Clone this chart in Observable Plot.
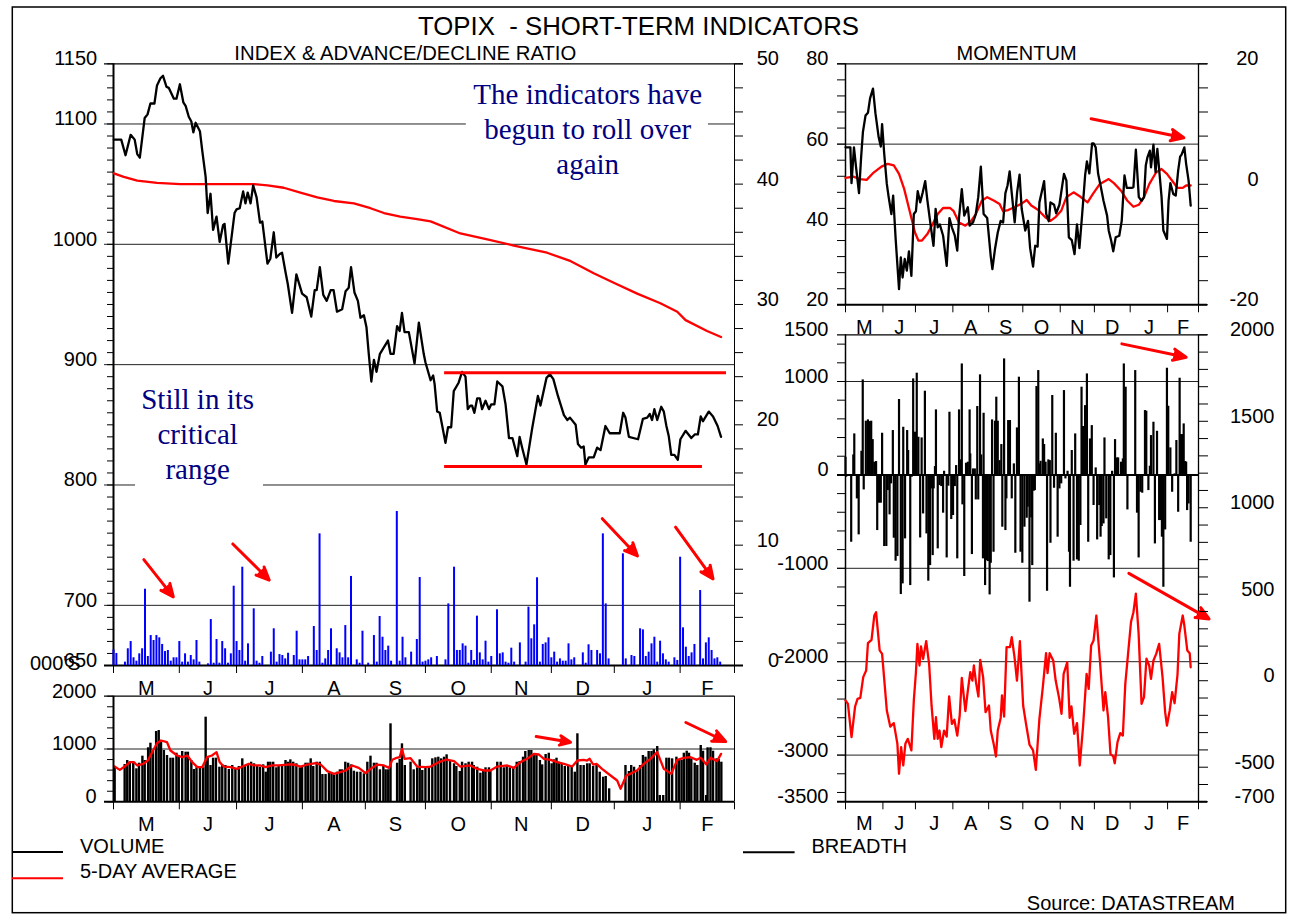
<!DOCTYPE html>
<html><head><meta charset="utf-8">
<script src="https://cdn.jsdelivr.net/npm/d3@7"></script>
<script src="https://cdn.jsdelivr.net/npm/@observablehq/plot@0.6"></script>
<style>
html,body{margin:0;padding:0;background:#fff;}
#chart{position:relative;width:1292px;height:915px;overflow:hidden;background:#fff;}
#chart svg{position:absolute;left:0;top:0;}
</style></head><body><div id="chart"></div>
<script>
// ---------- DATA (x = weekday index from 1 May, value) ----------
const monthStarts = [0, 23, 43, 66, 88, 109, 132, 153, 175, 198, 217];
const monthNames = ["M","J","J","A","S","O","N","D","J","F"];

const topixIndex = [[0.1,1087],[2.7,1087],[4.2,1074],[6.0,1091],[7.4,1087],[8.3,1075],[9.2,1072],[10.9,1105],[11.9,1108],[12.9,1117],[14.3,1117],[15.2,1132],[16.4,1138],[17.3,1140],[18.5,1131],[19.3,1130],[21.1,1121],[22.0,1121],[23.2,1133],[24.4,1118],[25.2,1115],[26.3,1106],[27.2,1102],[27.9,1093],[28.7,1101],[30.2,1094],[31.0,1078],[32.2,1056],[32.9,1026],[33.9,1042],[34.8,1012],[36.0,1023],[37.1,1002],[38.3,1016],[38.8,1017],[40.1,984],[42.3,1026],[43.0,1029],[44.1,1030],[45.3,1044],[46.1,1034],[46.9,1043],[47.9,1034],[48.8,1049],[50.0,1039],[51.2,1018],[52.0,1019],[53.8,984],[54.8,988],[56.0,1010],[56.9,989],[58.1,992],[58.9,993],[60.1,977],[60.9,967],[62.4,943],[63.9,975],[65.9,959],[67.5,956],[69.1,940],[70.3,962],[71.0,962],[72.1,981],[73.3,958],[74.5,953],[75.9,962],[76.9,962],[78.1,944],[79.9,946],[81.1,961],[82.2,964],[83.0,981],[84.2,960],[85.4,953],[86.3,939],[87.5,941],[88.4,931],[89.2,909],[90.1,886],[91.0,904],[91.9,894],[93.1,909],[95.9,920],[96.8,909],[97.9,909],[99.1,932],[100.0,928],[100.8,943],[101.7,927],[103.2,927],[105.2,901],[106.7,935],[108.4,909],[109.0,902],[110.8,887],[111.7,891],[112.2,884],[113.1,861],[114.0,860],[116.0,835],[116.9,848],[118.0,848],[118.9,878],[120.6,885],[121.8,894],[123.0,890],[123.8,863],[124.7,866],[125.3,866],[126.1,860],[127.1,872],[128.0,872],[128.8,863],[130.0,870],[131.2,863],[132.0,867],[133.1,867],[134.1,886],[135.9,882],[137.0,867],[138.2,839],[139.4,839],[141.1,824],[141.9,840],[142.8,831],[144.3,817],[146.3,847],[148.3,874],[149.2,866],[151.3,889],[152.5,892],[153.7,888],[155.3,874],[157.4,858],[158.6,854],[159.5,856],[161.5,850],[162.3,834],[163.4,831],[164.3,832],[164.9,817],[166.1,823],[167.8,823],[169.0,831],[170.2,829],[171.9,849],[173.4,843],[176.9,843],[178.1,860],[178.9,856],[180.1,840],[183.3,838],[185.0,855],[186.5,856],[187.4,859],[188.2,854],[189.0,863],[190.0,854],[191.4,865],[192.3,861],[193.2,849],[194.0,841],[194.9,825],[196.0,825],[197.2,821],[198.1,838],[199.9,845],[201.9,839],[203.1,842],[204.2,842],[205.2,857],[206.0,853],[208.0,861],[209.5,857],[211.1,849],[212.3,840]];

const movingAverage = [[0.1,1059],[3.6,1056],[8.3,1053],[15.2,1051],[23.4,1050],[29.3,1050],[44.4,1050],[49.1,1050],[53.8,1049],[59.5,1047],[65.3,1043],[71.2,1039],[77.0,1036],[84.0,1034],[89.8,1030],[94.5,1026],[100.2,1023],[106.1,1021],[110.8,1019],[111.9,1018],[121.2,1009],[130.6,1004],[139.9,999],[151.5,993],[159.8,986],[167.8,976],[174.8,968],[183.0,959],[191.1,951],[197.0,944],[199.9,937],[207.4,928],[212.3,923]];

const adRatio = [[0,1.3],[1,1.0],[4,0.28],[5,1.39],[6,1.99],[7,0.64],[8,0.36],[9,0.97],[10,1.39],[11,6.34],[12,0.75],[13,2.49],[14,2.08],[15,2.49],[16,2.3],[17,1.75],[18,1.16],[19,1.25],[20,0.36],[21,0.64],[22,0.64],[23,1.99],[24,0.28],[25,0.97],[26,0.28],[27,0.83],[28,0.47],[29,2.08],[30,0.28],[33,0.14],[34,3.82],[35,0.19],[36,2.16],[37,0.19],[38,1.99],[39,1.39],[40,0.19],[41,0.97],[42,6.59],[43,1.99],[44,1.25],[45,8.17],[46,0.36],[47,1.8],[49,4.71],[50,0.36],[51,0.19],[52,0.75],[55,1.11],[56,3.05],[57,0.28],[58,0.91],[59,0.83],[60,0.55],[61,1.02],[63,0.83],[64,2.85],[65,0.47],[66,0.47],[67,0.47],[68,0.75],[70,3.24],[71,1.25],[72,10.94],[73,0.19],[74,0.55],[75,1.25],[76,3.05],[78,1.39],[79,1.05],[80,0.64],[81,3.32],[82,0.64],[83,7.4],[85,0.47],[86,0.19],[87,2.85],[89,0.19],[91,2.49],[92,0.28],[93,4.07],[94,2.35],[95,1.25],[96,1.61],[97,0.36],[99,12.8],[100,0.36],[101,2.35],[102,0.64],[104,1.11],[106,2.16],[107,7.31],[108,0.28],[109,0.36],[110,0.47],[111,0.64],[113,0.75],[116,0.47],[117,5.12],[119,8.17],[120,1.25],[121,1.25],[122,1.8],[123,1.61],[124,0.19],[125,1.25],[126,0.42],[127,4.1],[128,1.05],[129,0.47],[130,2.02],[131,0.28],[132,0.75],[134,4.63],[135,0.97],[136,1.05],[137,0.28],[138,0.19],[139,1.44],[140,0.28],[142,1.88],[144,0.28],[145,4.85],[146,2.22],[147,3.38],[148,7.29],[149,0.28],[150,1.75],[151,1.88],[152,2.3],[153,0.64],[154,1.11],[155,0.28],[156,0.55],[157,0.36],[158,0.36],[159,1.8],[160,0.47],[161,0.64],[164,1.05],[165,0.19],[166,1.72],[167,1.25],[169,1.25],[170,0.97],[171,10.94],[172,5.12],[173,0.55],[178,9.28],[179,0.55],[181,0.83],[182,0.75],[184,3.05],[185,2.96],[186,0.75],[187,1.11],[188,1.8],[189,2.35],[190,0.28],[191,2.02],[192,0.97],[193,0.47],[194,0.28],[196,0.64],[197,0.42],[198,9.0],[199,3.13],[200,1.52],[201,0.75],[202,1.05],[203,1.75],[205,6.23],[206,0.55],[207,1.88],[208,2.3],[209,1.25],[210,0.55],[211,0.64],[212,0.28]];

const volume = [[0.4,655],[3.9,706],[4.8,782],[5.7,750],[6.9,731],[8.0,625],[8.9,731],[10.1,864],[10.9,782],[12.1,1023],[12.9,1110],[13.8,958],[14.9,1331],[15.8,1350],[16.6,1129],[17.6,972],[18.7,877],[19.9,826],[20.8,826],[22.0,920],[22.8,877],[24.0,953],[25.2,940],[26.0,940],[27.2,782],[28.1,612],[29.0,644],[30.2,644],[31.3,644],[32.2,1603],[32.9,826],[33.9,688],[34.8,826],[35.8,826],[37.0,655],[38.0,700],[39.1,688],[40.3,612],[41.5,688],[42.6,612],[43.8,669],[45.0,814],[45.9,669],[47.0,700],[48.1,750],[49.1,720],[50.2,669],[51.2,655],[52.3,700],[53.2,561],[54.0,750],[54.8,750],[55.8,750],[56.9,644],[57.7,669],[58.9,669],[60.1,782],[60.9,750],[61.8,795],[62.8,750],[63.9,720],[65.1,644],[65.9,669],[67.1,731],[67.9,731],[68.9,814],[69.8,669],[71.0,750],[72.1,750],[73.0,517],[74.1,517],[75.3,542],[76.2,542],[77.1,498],[78.1,561],[79.1,606],[79.9,606],[81.0,750],[82.0,731],[83.0,700],[84.0,580],[85.1,561],[86.3,561],[87.5,530],[88.7,750],[89.8,864],[91.0,731],[91.9,731],[93.1,606],[94.3,669],[95.1,606],[96.0,606],[96.8,1477],[99.1,731],[100.0,801],[100.8,1098],[101.8,688],[103.8,750],[104.9,606],[106.1,644],[107.0,795],[107.9,593],[109.0,669],[110.2,644],[111.4,814],[112.5,833],[113.5,845],[114.5,814],[115.5,845],[116.4,890],[117.6,782],[119.0,720],[119.8,669],[121.0,574],[121.8,750],[123.0,720],[124.1,750],[125.3,750],[125.9,688],[127.1,655],[128.2,542],[129.2,593],[130.0,644],[131.2,644],[131.7,593],[134.1,750],[135.3,750],[136.4,644],[137.4,669],[138.5,644],[139.7,644],[140.9,750],[141.9,763],[143.1,845],[143.9,953],[145.1,972],[146.0,972],[146.9,896],[147.8,890],[149.0,782],[149.8,700],[151.0,896],[152.1,920],[153.1,720],[153.9,795],[154.8,826],[155.6,750],[156.6,720],[157.7,669],[158.9,688],[160.1,669],[161.2,561],[162.1,1288],[163.2,688],[164.3,688],[165.5,720],[166.4,720],[167.6,669],[168.8,700],[169.9,561],[171.1,466],[172.0,479],[173.2,246],[178.9,688],[180.1,574],[180.9,688],[181.9,655],[183.0,574],[184.0,688],[185.0,877],[185.9,845],[187.0,953],[188.0,953],[188.8,985],[190.0,1047],[190.9,119],[192.1,119],[193.2,826],[194.1,826],[195.2,814],[196.7,845],[197.6,782],[198.5,782],[199.3,920],[200.3,958],[201.1,920],[201.9,814],[203.1,731],[204.0,688],[205.2,1066],[206.0,958],[207.1,119],[207.6,1023],[208.6,1023],[209.5,958],[210.7,814],[211.5,801],[212.4,750]];

const volumeAvg5 = [[0.4,668],[2.2,605],[3.9,668],[5.7,751],[7.1,751],[8.3,688],[10.4,719],[12.0,782],[13.5,940],[15.2,1110],[16.6,1161],[18.7,1129],[19.9,972],[22.2,877],[24.0,845],[25.8,877],[27.5,751],[29.3,656],[31.0,656],[32.7,845],[34.4,877],[36.0,940],[37.1,751],[38.5,668],[40.9,656],[43.2,624],[45.0,668],[47.3,719],[49.1,688],[51.4,688],[53.2,656],[55.4,688],[57.7,688],[60.7,706],[63.0,706],[65.4,668],[67.7,706],[70.6,732],[72.4,706],[74.7,580],[77.0,530],[79.3,561],[81.1,593],[83.4,688],[85.7,643],[88.1,542],[89.8,624],[92.2,706],[94.5,688],[96.3,643],[97.4,795],[98.6,826],[100.0,845],[100.8,1003],[101.7,814],[103.8,826],[106.1,668],[109.0,656],[110.8,668],[113.7,751],[116.4,801],[119.0,770],[121.2,668],[124.7,688],[127.1,624],[129.4,593],[131.7,593],[134.1,668],[137.6,688],[139.9,643],[142.2,751],[144.5,814],[146.9,908],[148.6,896],[150.4,814],[152.7,795],[155.0,751],[157.4,719],[160.3,668],[162.1,782],[164.3,795],[165.5,782],[166.4,814],[167.6,706],[168.8,719],[170.7,624],[173.7,498],[176.0,403],[177.2,246],[179.2,498],[180.6,530],[182.9,593],[185.3,719],[187.6,814],[190.0,940],[192.3,624],[194.9,530],[197.0,795],[199.3,833],[201.7,845],[203.8,795],[205.2,833],[207.2,706],[208.6,833],[210.9,770],[212.3,908]];

const momentum = [[0.0,59.2],[3.0,59.2],[3.7,50.3],[5.2,59.2],[6.5,54.2],[8.3,47.8],[9.6,56.7],[10.7,63.0],[12.3,67.1],[13.8,67.8],[15.1,71.4],[16.9,73.8],[18.4,67.7],[20.4,61.7],[21.7,59.4],[22.5,65.0],[23.8,57.6],[25.4,50.1],[26.4,47.2],[28.2,42.6],[29.3,47.2],[30.8,36.6],[32.9,23.9],[34.0,31.8],[35.1,26.8],[36.4,31.4],[37.7,28.5],[39.0,33.3],[40.5,27.2],[42.0,42.6],[43.3,43.3],[44.4,48.3],[45.9,45.5],[47.5,48.0],[49.0,50.8],[50.3,46.1],[52.5,39.3],[54.1,34.7],[55.4,43.9],[56.7,39.3],[58.0,40.0],[60.0,37.2],[62.2,29.7],[63.9,41.6],[65.4,39.3],[67.2,37.2],[68.7,33.5],[69.8,41.8],[71.5,48.8],[73.0,42.2],[75.2,44.3],[76.3,39.7],[78.4,40.5],[80.1,42.6],[81.6,46.8],[83.2,54.4],[84.9,42.6],[87.1,41.6],[89.3,32.0],[90.3,28.9],[91.9,33.9],[93.6,38.0],[95.4,40.9],[96.9,40.5],[98.3,47.8],[99.6,49.7],[100.9,53.2],[102.2,47.8],[104.0,40.5],[105.5,48.0],[107.0,52.4],[108.3,43.9],[110.5,38.5],[112.2,40.9],[113.5,34.1],[115.3,29.5],[116.6,34.7],[118.1,34.5],[119.2,45.5],[120.6,48.0],[122.1,50.8],[123.4,42.6],[125.0,40.8],[126.0,45.5],[128.2,44.9],[129.5,42.8],[131.5,44.9],[134.3,52.6],[135.8,50.9],[137.3,36.8],[139.1,36.1],[140.8,32.6],[142.3,40.0],[143.8,34.1],[145.5,42.6],[147.3,52.2],[148.4,55.7],[149.9,52.7],[151.6,60.2],[152.5,60.2],[153.8,59.2],[155.3,52.6],[156.8,49.7],[158.6,45.9],[160.8,42.2],[161.8,38.5],[163.3,36.0],[164.6,33.3],[166.1,36.8],[168.3,37.2],[169.8,40.9],[171.5,52.2],[172.9,49.1],[175.9,49.1],[177.0,49.3],[178.5,58.6],[180.3,46.8],[182.0,45.9],[183.5,46.8],[184.6,54.7],[185.6,56.7],[187.1,58.4],[187.8,54.2],[189.3,59.9],[190.6,53.0],[191.7,58.8],[192.8,53.8],[194.3,46.8],[195.4,38.5],[197.6,36.4],[198.6,45.9],[199.7,50.3],[201.5,47.6],[203.0,47.2],[204.5,53.4],[205.7,56.9],[206.6,57.4],[208.3,59.2],[209.4,55.1],[210.9,50.9],[212.2,44.7]];

const momentumAvg = [[0,51.6],[4.8,51.9],[9.1,51.3],[13.0,51.1],[16.7,52.7],[22.1,54.4],[26.0,55.1],[29.7,54.7],[32.9,52.6],[36.1,48.8],[39.4,43.4],[42.7,38.0],[44.8,36.0],[47.0,36.0],[50.3,37.6],[53.6,40.1],[56.7,42.6],[60.0,44.1],[64.3,44.1],[66.5,43.3],[69.8,40.5],[73.7,39.7],[77.3,40.9],[80.1,42.6],[83.8,45.9],[87.1,46.8],[91.4,45.9],[94.7,45.1],[96.9,43.3],[100.0,43.6],[104.4,44.4],[108.7,45.3],[111.4,46.1],[114.2,44.7],[118.5,43.6],[122.8,41.8],[126.0,40.9],[129.3,41.9],[132.6,43.4],[135.8,46.8],[140.2,48.0],[144.4,46.9],[148.8,45.5],[152.1,47.6],[156.4,50.1],[161.8,51.3],[165.0,50.3],[169.4,48.4],[173.3,45.9],[177.0,44.4],[180.3,44.9],[183.5,46.8],[186.8,50.1],[191.0,53.0],[194.3,53.8],[197.6,52.6],[200.8,50.9],[204.1,49.1],[207.3,49.1],[209.4,49.7],[212.2,49.7]];

const breadthBars = [[0.0,189],[0.4,-25],[3.5,-721],[4.8,214],[5.4,439],[7.0,-257],[8.1,-642],[9.8,253],[10.6,1017],[11.2,-161],[12.5,575],[13.8,589],[14.9,571],[15.8,575],[16.7,378],[17.7,136],[18.8,143],[19.5,-596],[20.6,-303],[21.7,-303],[22.5,446],[23.8,-767],[25.1,-767],[26.0,-168],[27.1,-428],[28.0,-96],[29.1,475],[29.7,-678],[30.8,-924],[31.9,-874],[32.9,807],[34.0,-1281],[35.1,-1167],[35.5,510],[36.6,-685],[37.9,475],[38.5,261],[39.8,-1185],[40.7,-25],[41.6,1028],[42.7,457],[43.8,1089],[44.8,403],[45.9,-675],[46.8,396],[47.7,-418],[48.8,896],[49.8,-632],[50.9,-1138],[52.0,-971],[52.9,-150],[53.6,-864],[54.2,-150],[55.0,89],[55.6,696],[56.7,-792],[57.8,-114],[58.9,-125],[60.0,-410],[60.6,39],[62.2,-889],[63.2,-121],[63.9,671],[65.0,-478],[66.1,-435],[67.2,-125],[68.0,100],[68.7,-899],[69.8,696],[70.9,161],[71.5,1188],[71.9,-321],[73.0,-1088],[74.1,125],[75.2,136],[76.3,696],[76.7,225],[77.7,-853],[78.4,64],[79.5,64],[80.1,-268],[81.0,732],[81.6,-268],[82.7,1071],[83.4,214],[84.5,-899],[84.9,660],[85.8,-1185],[86.6,-917],[87.5,-928],[88.6,-1285],[89.3,-946],[90.1,589],[91.0,-828],[91.9,575],[92.7,832],[93.6,575],[94.7,153],[95.8,325],[96.4,-560],[97.5,1242],[98.3,-596],[98.9,-257],[100.0,582],[101.1,582],[102.2,-257],[103.5,118],[104.4,-839],[105.4,503],[106.6,1046],[107.6,-828],[108.7,-946],[110.0,-560],[111.4,-464],[112.0,-346],[113.1,-1363],[114.2,-460],[114.8,-971],[115.7,-175],[116.4,-168],[117.4,946],[118.5,1117],[119.2,118],[119.9,146],[121.3,385],[122.1,325],[123.0,136],[123.9,-1246],[124.7,161],[125.6,153],[126.0,-732],[127.1,850],[128.2,-143],[129.3,446],[130.4,-667],[131.5,-150],[132.6,-96],[134.3,903],[135.2,-43],[136.5,39],[137.4,-828],[138.0,-1203],[139.1,261],[140.2,-924],[141.2,439],[142.3,-910],[143.4,-924],[144.4,-542],[145.1,939],[146.0,518],[147.3,742],[148.4,1081],[149.2,-721],[150.3,385],[151.4,528],[152.5,-328],[153.8,75],[154.7,-696],[156.0,-328],[156.8,-667],[157.5,-553],[158.6,-525],[159.2,396],[160.3,-471],[161.8,-910],[162.8,-864],[163.9,39],[165.0,-1103],[165.7,378],[166.8,182],[167.6,182],[169.4,136],[170.5,171],[171.1,1188],[172.2,939],[173.3,-375],[178.1,1117],[179.2,-410],[180.2,-889],[181.3,-186],[182.4,-196],[184.1,689],[184.9,682],[186.2,-168],[187.1,93],[187.8,421],[189.3,564],[190.2,-739],[191.5,467],[192.8,-489],[193.6,-489],[194.5,-667],[195.4,-1203],[196.5,-589],[197.6,1142],[198.4,735],[199.7,289],[200.8,-186],[202.3,11],[203.4,368],[204.5,-400],[205.4,1035],[206.2,432],[207.3,432],[207.9,546],[208.8,143],[209.4,136],[210.0,-382],[210.9,-311],[212.2,-721]];

const breadthLine = [[0,-114],[1.5,-134],[3.7,-326],[5.9,-149],[7.4,-105],[9.1,-99],[10.9,21],[12.7,59],[13.8,217],[16.0,236],[17.7,377],[18.8,396],[21.0,175],[22.5,155],[25.4,-172],[27.5,-265],[29.7,-245],[31.9,-365],[32.9,-538],[34.2,-384],[35.5,-490],[36.8,-365],[38.3,-336],[40.5,-403],[42.0,-114],[43.3,49],[44.2,213],[45.5,88],[46.4,198],[47.7,127],[49.6,229],[51.4,98],[52.9,-143],[54.6,-336],[55.6,-211],[56.7,-336],[57.8,-288],[58.9,-384],[60.6,-288],[62.2,-323],[63.7,-91],[65.4,-249],[66.9,-226],[68.7,-317],[70.2,-201],[71.5,17],[73.7,-176],[75.2,-57],[76.7,49],[78.0,1],[78.9,88],[80.2,-8],[81.7,-91],[82.8,121],[84.6,21],[86.1,-182],[88.2,-143],[89.3,-288],[91.0,-361],[92.5,-438],[93.6,-288],[95.4,-215],[96.2,-85],[97.5,-207],[99.0,194],[101.1,194],[102.2,252],[103.9,136],[105.4,1],[107.2,229],[109.2,-143],[110.9,-245],[113.1,-369],[115.3,-403],[117.0,-515],[119.2,-220],[121.3,-37],[123.3,159],[124.2,44],[125.5,159],[127.7,117],[129.2,1],[131.4,-105],[132.8,-191],[134.1,40],[136.3,107],[137.8,-215],[138.9,-149],[140.6,-307],[142.3,-245],[144.0,-490],[146.0,-269],[148.2,40],[149.5,-47],[151.0,204],[152.5,233],[154.2,377],[156.4,117],[158.6,-172],[159.7,-66],[161.4,-211],[162.9,-423],[164.6,-438],[165.5,-477],[167.2,-355],[168.9,-303],[170.5,-317],[172.0,-18],[173.7,155],[175.5,339],[177.0,396],[178.5,503],[180.2,271],[182.0,-134],[183.5,-95],[185.0,127],[186.7,88],[187.8,11],[189.3,117],[191.0,155],[192.8,213],[194.9,21],[196.5,-182],[197.6,-259],[199.3,-172],[200.8,-66],[202.3,-130],[204.1,36],[205.2,271],[207.3,377],[208.3,319],[210.1,175],[211.6,159],[212.2,78]];

// annotations (data units)
const rangeLines = [[115.7,214.2,893.3],[115.7,205.8,815.4]];          // [x1, x2, index level]
const arrowsIndex = [[10.6,738,20.9,707],[41.7,751,54.4,721],[170.8,772,183.1,741],[196.4,765,209.5,722]];
const arrowsVolume = [[147.7,1237,159.7,1129],[200.0,1502,213.9,1142]];
const arrowsMomentum = [[151.0,66.3,208.0,61.6]];
const arrowsBreadth = [[169.9,1403,209.4,1259],[174.2,-1054,223.5,-1542]];
const noteTexts = ["The indicators have\nbegun to roll over\nagain", "Still in its\ncritical\nrange"];
const noteAnchors = [[165.7,1096.7],[29.4,843.3]];
const noteBoxes = [[123.3,207.9,1053,1143],[7.7,52.4,793,888.5]];

// ---------- RENDER ----------
const W = 1292, H = 915;
const FONT = "'Liberation Sans', Arial, Helvetica, sans-serif";
const RED = "#ff0000", BLUE = "#0000ff";
const LW = 2.3;
const chart = document.getElementById("chart");
const fmt = d => String(d);
const monthMids = monthNames.map((_, i) => (monthStarts[i] + monthStarts[i + 1]) / 2);
const monthLabelAt = new Map(monthMids.map((m, i) => [m, monthNames[i]]));
const X = d => d[0], Y = d => d[1];

function panel(box, ydomain, marks) {
  const svg = Plot.plot({
    width: W, height: H,
    marginLeft: box.left, marginRight: W - box.right, marginTop: box.top, marginBottom: H - box.bottom,
    x: {type: "linear", domain: [0, 217], axis: null},
    y: {type: "linear", domain: ydomain, axis: null},
    style: {fontFamily: FONT, fontSize: "20px", color: "black", background: "transparent", overflow: "visible"},
    marks
  });
  chart.appendChild(svg);
}
const monthAxes = (pad) => [
  Plot.axisX({ticks: monthStarts, tickSize: 8, tickFormat: () => "", anchor: "bottom", label: null}),
  Plot.axisX({ticks: monthMids, tickSize: 0, tickPadding: pad, tickFormat: d => monthLabelAt.get(d), anchor: "bottom", label: null})
];
const arrowMark = (data) => Plot.arrow(data, {x1: d => d[0], y1: d => d[1], x2: d => d[2], y2: d => d[3],
  stroke: RED, fill: RED, strokeWidth: 3, headLength: 7, headAngle: 48});

// overlay: border, titles, legends
const ov = d3.create("svg").attr("width", W).attr("height", H).style("font-family", FONT).style("font-size", "20px");
ov.append("rect").attr("x", 12.3).attr("y", 7).attr("width", 1273.4).attr("height", 905.7).attr("fill", "none").attr("stroke", "black").attr("stroke-width", 1.5);
const T = (x, y, s, anchor = "start", size = 20) => ov.append("text").attr("x", x).attr("y", y).attr("text-anchor", anchor).attr("font-size", size).style("white-space", "pre").text(s);
T(638.5, 35, "TOPIX  - SHORT-TERM INDICATORS", "middle", 25.8);
T(405.3, 60, "INDEX & ADVANCE/DECLINE RATIO", "middle", 20.3);
T(1016.6, 60, "MOMENTUM", "middle");
T(30, 670, "000'S");
ov.append("line").attr("x1", 12).attr("x2", 63).attr("y1", 852).attr("y2", 852).attr("stroke", "black").attr("stroke-width", 2);
T(80, 853.3, "VOLUME");
ov.append("line").attr("x1", 12).attr("x2", 63).attr("y1", 878.3).attr("y2", 878.3).attr("stroke", RED).attr("stroke-width", 2);
T(80, 878.3, "5-DAY AVERAGE");
ov.append("line").attr("x1", 743).attr("x2", 794.6).attr("y1", 852.3).attr("y2", 852.3).attr("stroke", "black").attr("stroke-width", 2);
T(811.5, 853.3, "BREADTH");
T(1235, 910, "Source: DATASTREAM", "end");
chart.appendChild(ov.node());

// Panel A: index (left axis)
const boxA = {left: 113, right: 734, top: 63.3, bottom: 665};
panel(boxA, [650, 1150], [
  Plot.ruleY([1100, 1000, 900, 800, 700], {insetLeft: -9, stroke: "#222", strokeWidth: 1}),
  Plot.rect(noteBoxes, {x1: d => d[0], x2: d => d[1], y1: d => d[2], y2: d => d[3], fill: "white"}),
  Plot.text(noteTexts, {x: (d, i) => noteAnchors[i][0], y: (d, i) => noteAnchors[i][1], text: d => d,
    fontFamily: "'Liberation Serif', 'Times New Roman', serif", fontSize: 29, fill: "#000080", lineHeight: 1.2}),
  Plot.ruleY([1150], {insetLeft: -9, insetRight: -9, strokeWidth: 1.3}),
  Plot.ruleY([650], {insetLeft: -9, insetRight: -9, strokeWidth: 2}),
  Plot.ruleX([0], {strokeWidth: 2}),
  Plot.ruleX([217], {strokeWidth: 1}),
  Plot.line(movingAverage, {x: X, y: Y, stroke: RED, strokeWidth: LW}),
  Plot.line(topixIndex, {x: X, y: Y, stroke: "black", strokeWidth: LW}),
  Plot.ruleY(rangeLines, {x1: d => d[0], x2: d => d[1], y: d => d[2], stroke: RED, strokeWidth: 3}),
  arrowMark(arrowsIndex),
  Plot.axisY({ticks: d3.range(650, 1151, 10), tickSize: 6, tickFormat: () => "", anchor: "left", label: null}),
  Plot.axisY({ticks: [650, 700, 800, 900, 1000, 1100, 1150], tickSize: 0, tickPadding: 16.3, dy: -5, tickFormat: fmt, anchor: "left", label: null}),
  ...monthAxes(15.3)
]);
// Panel A: A/D ratio (right axis)
panel(boxA, [0, 50], [
  Plot.ruleX(adRatio, {x: X, y1: 0, y2: Y, stroke: BLUE, strokeWidth: 2}),
  Plot.axisY({ticks: d3.range(0, 51, 2), tickSize: 8, tickFormat: () => "", anchor: "right", label: null}),
  Plot.axisY({ticks: [0, 10, 20, 30, 40, 50], tickSize: 0, tickPadding: 44.5, textAnchor: "end", dy: -5, tickFormat: fmt, anchor: "right", label: null})
]);

// Volume panel
const boxV = {left: 113, right: 734, top: 695.7, bottom: 801.3};
panel(boxV, [0, 2000], [
  Plot.ruleY([1000], {insetLeft: -9, stroke: "#222", strokeWidth: 1}),
  Plot.ruleY([2000], {insetLeft: -9, strokeWidth: 1.3}),
  Plot.ruleX([217], {strokeWidth: 1}),
  Plot.ruleX(volume, {x: X, y1: 0, y2: Y, stroke: "black", strokeWidth: 2.4}),
  Plot.line(volumeAvg5, {x: X, y: Y, stroke: RED, strokeWidth: LW}),
  Plot.ruleY([0], {insetLeft: -9, strokeWidth: 2}),
  Plot.ruleX([0], {strokeWidth: 2}),
  arrowMark(arrowsVolume),
  Plot.axisY({ticks: d3.range(0, 2001, 200), tickSize: 6, tickFormat: () => "", anchor: "left", label: null}),
  Plot.axisY({ticks: [0, 1000, 2000], tickSize: 0, tickPadding: 17, dy: -5, tickFormat: fmt, anchor: "left", label: null}),
  ...monthAxes(14.5)
]);

// Momentum panel
const boxM = {left: 845, right: 1198, top: 63.3, bottom: 304.3};
panel(boxM, [20, 80], [
  Plot.ruleY([60, 40], {insetLeft: -8, stroke: "#222", strokeWidth: 1}),
  Plot.ruleY([80], {insetLeft: -8, insetRight: -9, strokeWidth: 1.3}),
  Plot.ruleY([20], {insetLeft: -8, insetRight: -9, strokeWidth: 2}),
  Plot.ruleX([0], {strokeWidth: 1.5}),
  Plot.ruleX([217], {strokeWidth: 1.3}),
  Plot.line(momentumAvg, {x: X, y: Y, stroke: RED, strokeWidth: LW}),
  Plot.line(momentum, {x: X, y: Y, stroke: "black", strokeWidth: LW}),
  arrowMark(arrowsMomentum),
  Plot.axisY({ticks: d3.range(20, 81, 4), tickSize: 8, tickFormat: () => "", anchor: "left", label: null}),
  Plot.axisY({ticks: [20, 40, 60, 80], tickSize: 0, tickPadding: 17, dy: -5, tickFormat: fmt, anchor: "left", label: null}),
  ...monthAxes(14.8)
]);
panel(boxM, [-20, 20], [
  Plot.axisY({ticks: d3.range(-20, 21, 4), tickSize: 9, tickFormat: () => "", anchor: "right", label: null}),
  Plot.axisY({ticks: [-20, 0, 20], tickSize: 0, tickPadding: 60, textAnchor: "end", dy: -5, tickFormat: fmt, anchor: "right", label: null})
]);

// Breadth panel
const boxB = {left: 845, right: 1198, top: 334.3, bottom: 801.3};
panel(boxB, [-3500, 1500], [
  Plot.ruleY([1000, -1000, -2000, -3000], {insetLeft: -8, stroke: "#222", strokeWidth: 1}),
  Plot.ruleY([1500], {insetLeft: -8, insetRight: -9, strokeWidth: 1.3}),
  Plot.ruleY([-3500], {insetLeft: -8, insetRight: -9, strokeWidth: 2}),
  Plot.ruleX([0], {strokeWidth: 1.5}),
  Plot.ruleX([217], {strokeWidth: 1.3}),
  Plot.ruleX(breadthBars, {x: X, y1: 0, y2: Y, stroke: "black", strokeWidth: 2.2}),
  Plot.ruleY([0], {insetLeft: -8, strokeWidth: 2}),
  arrowMark(arrowsBreadth),
  Plot.axisY({ticks: d3.range(-3400, 1501, 200), tickSize: 8, tickFormat: () => "", anchor: "left", label: null}),
  Plot.axisY({ticks: [-3500, -3000, -2000, -1000, 0, 1000, 1500], tickSize: 0, tickPadding: 17, dy: -5, tickFormat: fmt, anchor: "left", label: null}),
  ...monthAxes(14.2)
]);
panel(boxB, [-700, 2000], [
  Plot.line(breadthLine, {x: X, y: Y, stroke: RED, strokeWidth: LW}),
  Plot.axisY({ticks: d3.range(-700, 2001, 100), tickSize: 9, tickFormat: () => "", anchor: "right", label: null}),
  Plot.axisY({ticks: [-700, -500, 0, 500, 1000, 1500, 2000], tickSize: 0, tickPadding: 76, textAnchor: "end", dy: -5, tickFormat: fmt, anchor: "right", label: null})
]);
</script></body></html>
